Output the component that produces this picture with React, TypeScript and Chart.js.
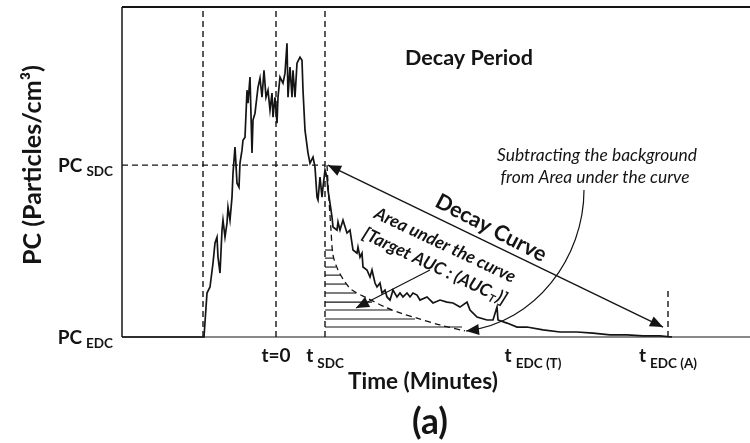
import React, { useEffect, useRef } from 'react';
import { Chart, registerables } from 'chart.js';

Chart.register(...registerables);

// ---- axis ranges (minutes / relative particle concentration) ----
const X_MIN = -15.4;
const X_MAX = 47.4;
const Y_MIN = 0;
const Y_MAX = 192;

// ---- key instants and levels ----
const T_START = -7.3;
const T_ZERO = 0;
const T_SDC = 4.9;
const T_EDC_T = 25.7;
const T_EDC_A = 39.2;
const PC_SDC = 100;
const PC_EDC = 0;
const T_EDC_A_GUIDE_TOP = 28.5;

// ---- measured particle concentration ----
const timeMin = [
  -15.4, -7.2, -6.9, -6.6, -6.3, -6.1, -5.9, -5.8, -5.6, -5.4, -5.3, -5.1, -4.9, -4.8, -4.6, -4.4, -4.3, -4.1,
  -3.9, -3.7, -3.6, -3.4, -3.3, -3.1, -2.9, -2.8, -2.6, -2.4, -2.3, -2.1, -1.8, -1.6, -1.4, -1.2, -1.0, -0.8,
  -0.6, -0.4, -0.3, -0.1, 0.1, 0.2, 0.4, 0.7, 0.9, 1.1, 1.2, 1.4, 1.6, 1.7, 1.9, 2.1, 2.4, 2.6, 2.7, 2.9,
  3.2, 3.4, 3.7, 3.9, 4.1, 4.2, 4.4, 4.6, 4.7, 4.9, 5.1, 5.2, 5.4, 5.6, 5.7, 6.1, 6.2, 6.4, 6.7, 7.1, 7.4,
  7.7, 8.1, 8.2, 8.4, 8.6, 8.7, 9.1, 9.4, 9.6, 9.9, 10.1, 10.4, 10.6, 10.9, 11.1, 11.4, 11.7, 12.1, 12.4,
  12.7, 13.1, 13.4, 13.7, 14.1, 14.4, 15.1, 15.7, 16.4, 17.1, 17.7, 18.4, 19.1, 19.4, 20.1, 21.1, 21.7,
  22.1, 22.2, 23.1, 24.1, 25.1, 26.7, 28.4, 30.1, 31.7, 33.4, 35.1, 36.7, 38.4, 39.6,
];
const pcValues = [
  0, 0, 25.6, 29.1, 43.0, 54.7, 58.1, 46.5, 37.2, 62.2, 68.0, 58.1, 66.3, 75.6, 68.0, 81.4, 95.3, 110.5,
  89.5, 87.2, 101.2, 108.7, 114.5, 116.3, 143.6, 136.0, 151.2, 107.0, 126.2, 130.2, 145.3, 150.6, 139.5, 155.2, 139.5, 143.6,
  132.0, 141.9, 127.9, 139.5, 124.4, 139.5, 151.2, 147.7, 153.5, 170.9, 139.5, 157.0, 139.5, 155.2, 139.5, 159.3, 162.8, 161.0, 143.6, 120.3,
  107.0, 101.2, 104.7, 98.8, 81.4, 79.7, 93.0, 81.4, 87.2, 97.1, 93.0, 85.5, 77.9, 69.8, 64.0, 62.2, 66.9, 62.2, 68.0, 60.5, 62.2,
  50.6, 48.8, 52.3, 46.5, 48.8, 40.7, 39.0, 34.9, 39.0, 31.4, 29.1, 31.4, 25.6, 27.3, 23.3, 21.5, 27.3, 23.3, 25.6,
  23.3, 25.6, 23.3, 25.6, 24.4, 21.5, 23.3, 19.8, 21.5, 20.3, 19.8, 17.4, 20.3, 15.7, 11.6, 9.9, 9.9,
  17.4, 9.9, 8.1, 5.8, 5.8, 4.1, 2.9, 2.9, 2.3, 1.2, 1.2, 0.6, 0.6, 0,
];

// ---- fitted (background) decay curve ----
const fitTime = [5.1, 5.3, 5.5, 5.7, 6.2, 6.9, 7.6, 9.1, 10.9, 12.4, 14.1, 16.4, 18.9];
const fitPC = [100, 79.7, 62.2, 47.7, 39.0, 32.0, 27.3, 22.7, 17.4, 14.0, 11.0, 7.0, 3.5];

// ---- hatching of the target area under the curve ----
const hatchLevels = [50.6, 45.9, 40.7, 36.0, 30.8, 25.6, 20.3, 15.7, 10.5, 5.8];
const hatchEnds = [5.6, 5.8, 6.0, 6.5, 7.0, 8.0, 9.6, 11.6, 13.9, 18.6];

// ---- annotation arrows (data units) ----
const decayArrowFrom = [5.2, 100];
const decayArrowTo = [38.7, 5.8];
const aucArrowFrom = [15.4, 39.0];
const aucArrowTo = [8.0, 16.9];
const bgArrowPath = [[30.8, 85.5], [30.8, 46.5], [26.0, 8.1], [19.0, 3.5]];

// ---- tick labels ----
const xTickPos = [T_ZERO, T_SDC, T_EDC_T, T_EDC_A];
const xTickMain = ['t=0', 't', 't', 't'];
const xTickSub = ['', 'SDC', 'EDC (T)', 'EDC (A)'];
const yTickPos = [PC_SDC, PC_EDC];
const yTickMain = ['PC', 'PC'];
const yTickSub = ['SDC', 'EDC'];

const FAMILY = 'Lato, "Open Sans", "DejaVu Sans", sans-serif';
const INK = '#141414';

type Part = { text: string; size: number; weight?: string; style?: string; dy?: number };

function setFont(ctx: CanvasRenderingContext2D, size: number, weight = 'bold', style = 'normal') {
  ctx.font = `${style} ${weight} ${size}px ${FAMILY}`;
}

function fitSize(ctx: CanvasRenderingContext2D, text: string, target: number, weight = 'bold', style = 'normal') {
  setFont(ctx, 100, weight, style);
  const w = ctx.measureText(text).width;
  return (100 * target) / w;
}

function drawParts(ctx: CanvasRenderingContext2D, parts: Part[], x: number, y: number, align: 'left' | 'center' | 'right', gap = 3) {
  const widths = parts.map((p) => {
    setFont(ctx, p.size, p.weight ?? 'bold', p.style ?? 'normal');
    return ctx.measureText(p.text).width;
  });
  const total = widths.reduce((a, b) => a + b, 0) + gap * (parts.length - 1);
  let cx = align === 'left' ? x : align === 'center' ? x - total / 2 : x - total;
  ctx.textAlign = 'left';
  ctx.textBaseline = 'alphabetic';
  parts.forEach((p, i) => {
    setFont(ctx, p.size, p.weight ?? 'bold', p.style ?? 'normal');
    ctx.fillText(p.text, cx, y + (p.dy ?? 0));
    cx += widths[i] + gap;
  });
}

function arrowHead(ctx: CanvasRenderingContext2D, tx: number, ty: number, fx: number, fy: number, len = 13, half = 5.5) {
  const a = Math.atan2(ty - fy, tx - fx);
  const c = Math.cos(a);
  const s = Math.sin(a);
  ctx.beginPath();
  ctx.moveTo(tx, ty);
  ctx.lineTo(tx - len * c + half * s, ty - len * s - half * c);
  ctx.lineTo(tx - len * c - half * s, ty - len * s + half * c);
  ctx.closePath();
  ctx.fill();
}

const annotationPlugin = {
  id: 'decayAnnotations',
  afterDatasetsDraw(chart: any) {
    const ctx: CanvasRenderingContext2D = chart.ctx;
    const area = chart.chartArea;
    const xs = chart.scales.x;
    const ys = chart.scales.y;
    const px = (v: number) => xs.getPixelForValue(v);
    const py = (v: number) => ys.getPixelForValue(v);
    const W = chart.width;

    ctx.save();
    ctx.strokeStyle = INK;
    ctx.fillStyle = INK;

    // frame: top line, left line, bottom axis
    ctx.lineWidth = 2;
    ctx.beginPath();
    ctx.moveTo(area.left, area.top);
    ctx.lineTo(W, area.top);
    ctx.stroke();
    ctx.lineWidth = 1.5;
    ctx.beginPath();
    ctx.moveTo(area.left, area.top);
    ctx.lineTo(area.left, area.bottom);
    ctx.stroke();
    ctx.lineWidth = 1.2;
    ctx.beginPath();
    ctx.moveTo(area.left, area.bottom);
    ctx.lineTo(W, area.bottom);
    ctx.stroke();

    // decay curve double arrow
    const d0x = px(decayArrowFrom[0]), d0y = py(decayArrowFrom[1]);
    const d1x = px(decayArrowTo[0]), d1y = py(decayArrowTo[1]);
    ctx.lineWidth = 1.4;
    ctx.beginPath();
    ctx.moveTo(d0x, d0y);
    ctx.lineTo(d1x, d1y);
    ctx.stroke();
    arrowHead(ctx, d0x, d0y, d1x, d1y);
    arrowHead(ctx, d1x, d1y, d0x, d0y);

    // AUC pointer
    const a0x = px(aucArrowFrom[0]), a0y = py(aucArrowFrom[1]);
    const a1x = px(aucArrowTo[0]), a1y = py(aucArrowTo[1]);
    ctx.lineWidth = 1.2;
    ctx.beginPath();
    ctx.moveTo(a0x, a0y);
    ctx.lineTo(a1x, a1y);
    ctx.stroke();
    arrowHead(ctx, a1x, a1y, a0x, a0y);

    // curved "subtracting background" arrow
    const b = bgArrowPath.map((p) => [px(p[0]), py(p[1])]);
    ctx.lineWidth = 1.2;
    ctx.beginPath();
    ctx.moveTo(b[0][0], b[0][1]);
    ctx.bezierCurveTo(b[1][0], b[1][1], b[2][0], b[2][1], b[3][0], b[3][1]);
    ctx.stroke();
    arrowHead(ctx, b[3][0], b[3][1], b[2][0], b[2][1]);

    // --- texts ---
    {
      const s = fitSize(ctx, 'Decay Period', 128);
      setFont(ctx, s);
      ctx.textAlign = 'center';
      ctx.textBaseline = 'middle';
      ctx.fillText('Decay Period', px(19.3), py(162.2));
    }
    const ang = Math.atan2(d1y - d0y, d1x - d0x);
    {
      ctx.save();
      ctx.translate(px(21.5), py(63.4));
      ctx.rotate(ang + 0.03);
      const s = fitSize(ctx, 'Decay Curve', 122);
      setFont(ctx, s);
      ctx.textAlign = 'center';
      ctx.textBaseline = 'middle';
      ctx.fillText('Decay Curve', 0, 0);
      ctx.restore();
    }
    {
      ctx.save();
      ctx.translate(px(16.4), py(47.4));
      ctx.rotate(ang - 0.01);
      const s = fitSize(ctx, 'Area under the curve', 154, 'bold', 'italic');
      setFont(ctx, s, 'bold', 'italic');
      ctx.textAlign = 'center';
      ctx.textBaseline = 'middle';
      ctx.fillText('Area under the curve', 0, -11.5);
      drawParts(
        ctx,
        [
          { text: '[Target AUC : (AUC', size: s, style: 'italic' },
          { text: 'T', size: s * 0.62, style: 'italic', dy: 3 },
          { text: ')]', size: s, style: 'italic' },
        ],
        0,
        11.5 + s * 0.35,
        'center',
        1,
      );
      ctx.restore();
    }
    {
      const s = fitSize(ctx, 'Subtracting the background', 200, 'normal', 'italic');
      setFont(ctx, s, 'normal', 'italic');
      ctx.textAlign = 'center';
      ctx.textBaseline = 'middle';
      ctx.fillText('Subtracting the background', px(32.1), py(105.8));
      ctx.fillText('from Area under the curve', px(31.9), py(93.0));
    }

    // x tick labels
    xTickPos.forEach((v, i) => {
      const parts: Part[] = [{ text: xTickMain[i], size: 19 }];
      if (xTickSub[i]) parts.push({ text: xTickSub[i], size: 13.5, dy: 6 });
      drawParts(ctx, parts, px(v), area.bottom + 25, 'center', 4);
    });
    // y tick labels
    yTickPos.forEach((v, i) => {
      drawParts(
        ctx,
        [
          { text: yTickMain[i], size: 19 },
          { text: yTickSub[i], size: 13.5, dy: 4 },
        ],
        area.left - 9,
        py(v) + 7,
        'right',
        4,
      );
    });

    // axis titles
    {
      const s = fitSize(ctx, 'Time (Minutes)', 150);
      setFont(ctx, s);
      ctx.textAlign = 'center';
      ctx.textBaseline = 'alphabetic';
      ctx.fillText('Time (Minutes)', px(14.7), area.bottom + 52);
    }
    {
      ctx.save();
      ctx.translate(33, (area.top + area.bottom) / 2 - 7);
      ctx.rotate(-Math.PI / 2);
      const s = fitSize(ctx, 'PC (Particles/cm³)', 200);
      setFont(ctx, s);
      ctx.textAlign = 'center';
      ctx.textBaseline = 'middle';
      ctx.fillText('PC (Particles/cm³)', 0, 0);
      ctx.restore();
    }
    {
      const s = fitSize(ctx, '(a)', 36);
      setFont(ctx, s);
      ctx.textAlign = 'center';
      ctx.textBaseline = 'middle';
      ctx.fillText('(a)', px(15.4), area.bottom + 86);
    }
    ctx.restore();
  },
};

export default function App() {
  const ref = useRef<HTMLCanvasElement | null>(null);

  useEffect(() => {
    if (!ref.current) return;
    const guide = (pts: { x: number; y: number }[]) => ({
      data: pts,
      borderColor: INK,
      borderWidth: 1.4,
      borderDash: [6, 4],
      pointRadius: 0,
      fill: false,
      tension: 0,
      clip: false as any,
    });
    const hatchSets = hatchLevels.map((lvl, i) => ({
      data: [
        { x: T_SDC, y: lvl },
        { x: hatchEnds[i], y: lvl },
      ],
      borderColor: INK,
      borderWidth: 1.1,
      pointRadius: 0,
      fill: false,
      tension: 0,
    }));

    const chart = new Chart(ref.current, {
      type: 'line',
      data: {
        datasets: [
          guide([{ x: T_START, y: Y_MIN }, { x: T_START, y: Y_MAX }]),
          guide([{ x: T_ZERO, y: Y_MIN }, { x: T_ZERO, y: Y_MAX }]),
          guide([{ x: T_SDC, y: Y_MIN }, { x: T_SDC, y: Y_MAX }]),
          guide([{ x: T_EDC_A, y: Y_MIN }, { x: T_EDC_A, y: T_EDC_A_GUIDE_TOP }]),
          guide([{ x: X_MIN, y: PC_SDC }, { x: T_SDC, y: PC_SDC }]),
          ...hatchSets,
          {
            data: fitTime.map((t, i) => ({ x: t, y: fitPC[i] })),
            borderColor: INK,
            borderWidth: 1.3,
            borderDash: [6, 4],
            pointRadius: 0,
            fill: false,
            tension: 0.3,
          },
          {
            data: timeMin.map((t, i) => ({ x: t, y: pcValues[i] })),
            borderColor: INK,
            borderWidth: 1.7,
            pointRadius: 0,
            fill: false,
            tension: 0,
            clip: false as any,
          },
        ] as any,
      },
      options: {
        animation: false,
        responsive: false,
        maintainAspectRatio: false,
        layout: { padding: { left: 122, right: 0, top: 7, bottom: 106 } },
        scales: {
          x: { type: 'linear', min: X_MIN, max: X_MAX, display: false },
          y: { type: 'linear', min: Y_MIN, max: Y_MAX, display: false },
        },
        plugins: { legend: { display: false }, tooltip: { enabled: false } },
      },
      plugins: [annotationPlugin],
    });
    return () => chart.destroy();
  }, []);

  return (
    <canvas
      ref={ref}
      width={750}
      height={443}
      style={{ position: 'fixed', left: 0, top: 0, width: 750, height: 443, background: '#fff' }}
    />
  );
}
